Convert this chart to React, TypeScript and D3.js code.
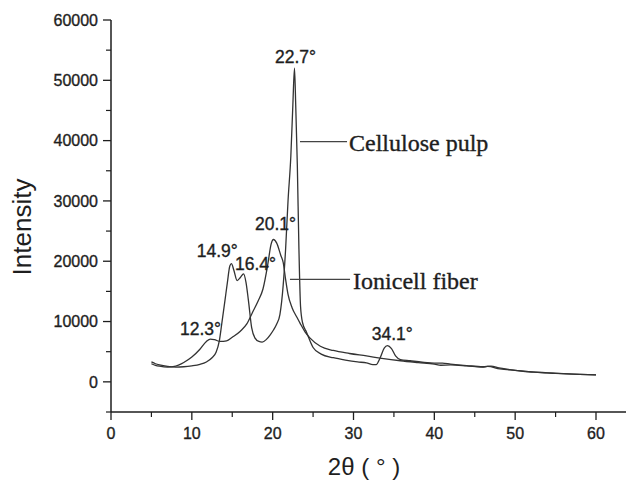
import React from 'react';
import * as d3 from 'd3';

// 2θ (degrees) and intensity for the two diffractograms
const pulpTheta = [5.0, 5.5, 6.0, 7.0, 8.0, 9.0, 10.0, 11.0, 11.8, 12.5, 13.0, 13.4, 13.7, 14.1, 14.4, 14.7, 14.9, 15.2, 15.6, 16.0, 16.4, 16.7, 17.0, 17.4, 17.8, 18.3, 18.7, 19.2, 19.7, 20.1, 20.5, 20.9, 21.3, 21.6, 21.9, 22.25, 22.5, 22.7, 22.85, 23.05, 23.25, 23.45, 23.7, 24.2, 25.0, 26.0, 27.5, 29.0, 30.5, 31.6, 32.4, 32.8, 33.3, 33.8, 34.2, 34.7, 35.2, 35.8, 37.0, 38.5, 40.0, 41.0, 42.0, 44.0, 46.0, 47.0, 48.0, 50.0, 52.0, 54.0, 56.0, 58.0, 60.0];
const pulpIntensity = [3300, 3000, 2800, 2550, 2450, 2500, 2650, 2900, 3300, 4000, 4900, 6800, 9600, 13500, 16500, 19200, 19600, 18500, 16800, 17300, 17900, 16500, 13500, 9000, 7300, 6700, 6600, 7000, 7800, 8600, 9600, 11200, 16000, 22000, 30000, 37500, 46000, 52000, 46000, 36000, 22000, 12500, 9800, 8200, 5700, 4600, 4000, 3600, 3300, 3150, 2850, 2850, 4000, 5600, 6000, 5500, 4300, 3700, 3500, 3250, 3100, 3100, 2950, 2700, 2500, 2600, 2300, 1900, 1650, 1500, 1350, 1250, 1150];

const fiberTheta = [5.0, 5.5, 6.0, 7.0, 8.0, 9.0, 10.0, 11.0, 11.8, 12.3, 12.8, 13.5, 14.3, 15.0, 16.0, 16.8, 17.5, 18.2, 18.8, 19.4, 19.8, 20.1, 20.5, 21.0, 21.3, 21.6, 21.9, 22.4, 23.0, 23.4, 24.0, 24.6, 25.9, 27.5, 29.5, 31.6, 33.5, 35.8, 38.0, 40.0, 40.8, 42.0, 44.0, 46.0, 46.6, 48.1, 50.0, 52.3, 55.0, 58.0, 60.0];
const fiberIntensity = [3000, 2750, 2600, 2450, 2600, 3200, 4100, 5400, 6700, 7100, 7000, 6700, 6800, 7400, 8400, 9600, 11500, 13400, 15400, 19500, 22800, 23600, 23000, 21000, 19800, 17000, 14500, 12300, 10700, 9700, 8300, 7300, 5900, 5200, 4700, 4300, 3900, 3500, 3200, 2950, 2750, 2800, 2650, 2450, 2550, 2150, 1900, 1600, 1400, 1250, 1150];

const xTicks = [0, 10, 20, 30, 40, 50, 60];
const xMinorTicks = [5, 15, 25, 35, 45, 55];
const yTicks = [0, 10000, 20000, 30000, 40000, 50000, 60000];
const yMinorTicks = [-5000, 5000, 15000, 25000, 35000, 45000, 55000];

// peak annotations: text, 2θ of text start, intensity of text baseline
const peakText = ['22.7°', '20.1°', '14.9°', '16.4°', '12.3°', '34.1°'];
const peakTextTheta = [20.29, 17.81, 10.6, 15.34, 8.54, 32.25];
const peakTextIntensity = [52870, 25180, 20750, 18550, 7770, 6940];

// series labels with leader lines
const seriesNames = ['Cellulose pulp', 'Ionicell fiber'];
const leaderStartTheta = [23.38, 22.14];
const leaderEndTheta = [29.2, 29.57];
const leaderIntensity = [39820, 17000];
const nameTheta = [29.44, 29.95];
const nameIntensity = [38200, 15400];

const W = 626;
const H = 480;
const left = 111;
const axisBottom = 412;

export default function App() {
  const x = d3.scaleLinear().domain([0, 60]).range([left, 596]);
  const y = d3.scaleLinear().domain([-5000, 60000]).range([axisBottom, 20]);

  const line = d3
    .line<[number, number]>()
    .x((d) => x(d[0]))
    .y((d) => y(d[1]))
    .curve(d3.curveMonotoneX);

  const pulp = pulpTheta.map((t, i) => [t, pulpIntensity[i]] as [number, number]);
  const fiber = fiberTheta.map((t, i) => [t, fiberIntensity[i]] as [number, number]);

  const sans = "'Liberation Sans', Arial, Helvetica, sans-serif";
  const serif = "'Liberation Serif', 'Times New Roman', serif";
  const ink = '#1e1e1e';
  const textStroke = { stroke: ink, strokeWidth: 0.35 };

  return (
    <svg
      width={W}
      height={H}
      style={{ position: 'absolute', left: 0, top: 0, background: '#fff' }}
    >
      <rect x={0} y={0} width={W} height={H} fill="#fff" />
      {/* axes */}
      <line x1={left} x2={left} y1={y(60000)} y2={axisBottom} stroke={ink} strokeWidth={1.5} />
      <line x1={left} x2={W} y1={axisBottom} y2={axisBottom} stroke={ink} strokeWidth={1.5} />
      {yTicks.map((t) => (
        <g key={'yt' + t}>
          <line x1={left - 8} x2={left} y1={y(t)} y2={y(t)} stroke={ink} strokeWidth={1.3} />
          <text
            x={left - 13}
            y={y(t)}
            dy="0.36em"
            textAnchor="end"
            fontFamily={sans}
            fontSize={16}
            fill={ink}
            {...textStroke}
          >
            {t}
          </text>
        </g>
      ))}
      {yMinorTicks.map((t) => (
        <line key={'ym' + t} x1={left - 5} x2={left} y1={y(t)} y2={y(t)} stroke={ink} strokeWidth={1.2} />
      ))}
      {xTicks.map((t) => (
        <g key={'xt' + t}>
          <line x1={x(t)} x2={x(t)} y1={axisBottom} y2={axisBottom + 8} stroke={ink} strokeWidth={1.3} />
          <text
            x={x(t)}
            y={439}
            textAnchor="middle"
            fontFamily={sans}
            fontSize={16}
            fill={ink}
            {...textStroke}
          >
            {t}
          </text>
        </g>
      ))}
      {xMinorTicks.map((t) => (
        <line key={'xm' + t} x1={x(t)} x2={x(t)} y1={axisBottom} y2={axisBottom + 5} stroke={ink} strokeWidth={1.2} />
      ))}
      {/* axis titles */}
      <text
        transform={`translate(31, 227) rotate(-90)`}
        textAnchor="middle"
        fontFamily={sans}
        fontSize={26}
        fill={ink}
      >
        Intensity
      </text>
      <text x={364} y={475} textAnchor="middle" fontFamily={sans} fontSize={24} fill={ink}>
        2θ ( ° )
      </text>
      {/* curves */}
      <path d={line(fiber) || ''} fill="none" stroke="#333" strokeWidth={1.3} />
      <path d={line(pulp) || ''} fill="none" stroke="#333" strokeWidth={1.3} />
      {/* peak labels */}
      {peakText.map((s, i) => (
        <text
          key={'pk' + i}
          x={x(peakTextTheta[i])}
          y={y(peakTextIntensity[i])}
          fontFamily={sans}
          fontSize={17.5}
          fill={ink}
          {...textStroke}
        >
          {s}
        </text>
      ))}
      {/* series labels */}
      {seriesNames.map((s, i) => (
        <g key={'sn' + i}>
          <line
            x1={x(leaderStartTheta[i])}
            x2={x(leaderEndTheta[i])}
            y1={y(leaderIntensity[i])}
            y2={y(leaderIntensity[i])}
            stroke="#444"
            strokeWidth={1.2}
          />
          <text
            x={x(nameTheta[i])}
            y={y(nameIntensity[i])}
            fontFamily={serif}
            fontSize={24}
            fill={ink}
            {...textStroke}
          >
            {s}
          </text>
        </g>
      ))}
    </svg>
  );
}
